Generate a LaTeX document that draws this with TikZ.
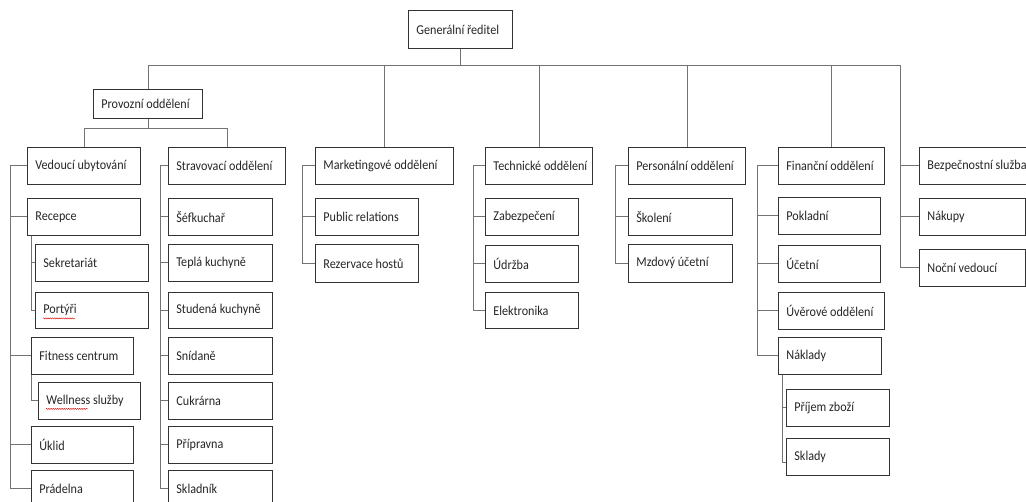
\documentclass[tikz,border=0pt]{standalone}
\usepackage{fontspec}
\setmainfont[FakeStretch=0.9]{Carlito}
\usetikzlibrary{decorations.pathmorphing}
\tikzset{
  box/.style={draw=black!80, line width=0.8pt, fill=white, inner xsep=8pt, inner ysep=0pt, font=\fontsize{13.5}{15}\selectfont, text=black!85},
  conn/.style={draw=black!55, line width=0.8pt},
  squig/.style={draw=red!85!black, line width=0.4pt, decorate, decoration={snake, segment length=2.2pt, amplitude=0.6pt}}
}
\newcommand\bx[6]{%
  \pgfmathsetmacro\bxh{#5-#3}%
  \pgfmathsetmacro\bxt{#4-#2-16}%
  \node[box, anchor=north west, minimum height=\bxh pt] (#1) at (#2,#3) {\makebox[\bxt pt][l]{#6}};}
\begin{document}
\begin{tikzpicture}[x=1pt,y=-1pt]
\fill[white] (0,0) rectangle (1026,502);
\useasboundingbox (0,0) rectangle (1026,502);
% boxes
\bx{gr}{408}{10}{512}{48}{Generální ředitel}
\bx{prov}{93}{89}{202}{118}{Provozní oddělení}
\bx{ved}{27}{147}{140}{184}{Vedoucí ubytování}
\bx{rec}{27}{198}{140}{235}{Recepce}
\bx{sek}{35}{244}{148}{281}{Sekretariát}
\bx{por}{35}{292}{148}{328}{Portýři}
\bx{fit}{31}{337}{133}{374}{Fitness centrum}
\bx{wel}{38}{382}{140}{419}{Wellness služby}
\bx{ukl}{31}{426}{133}{463}{Úklid}
\bx{pra}{31}{470}{133}{507}{Prádelna}
\bx{str}{168}{147}{285}{184}{Stravovací oddělení}
\bx{sef}{168}{198}{272}{235}{Šéfkuchař}
\bx{tep}{168}{244}{272}{281}{Teplá kuchyně}
\bx{stu}{168}{292}{272}{328}{Studená kuchyně}
\bx{sni}{168}{337}{272}{374}{Snídaně}
\bx{cuk}{168}{382}{272}{419}{Cukrárna}
\bx{pri}{168}{426}{272}{463}{Přípravna}
\bx{skl}{168}{470}{272}{507}{Skladník}
\bx{mar}{315}{147}{453}{184}{Marketingové oddělení}
\bx{pub}{315}{198}{418}{235}{Public relations}
\bx{rez}{315}{244}{418}{282}{Rezervace hostů}
\bx{tec}{485}{147}{592}{184}{Technické oddělení}
\bx{zab}{485}{198}{578}{235}{Zabezpečení}
\bx{udr}{485}{245}{578}{282}{Údržba}
\bx{ele}{485}{292}{578}{328}{Elektronika}
\bx{per}{628}{147}{745}{184}{Personální oddělení}
\bx{sko}{628}{198}{732}{235}{Školení}
\bx{mzd}{628}{244}{732}{282}{Mzdový účetní}
\bx{fin}{778}{147}{884}{184}{Finanční oddělení}
\bx{pok}{778}{197}{880}{234}{Pokladní}
\bx{uce}{778}{245}{880}{282}{Účetní}
\bx{uve}{778}{292}{884}{329}{Úvěrové oddělení}
\bx{nak}{778}{337}{881}{374}{Náklady}
\bx{pzb}{786}{389}{889}{426}{Příjem zboží}
\bx{sld}{786}{438}{889}{475}{Sklady}
\bx{bez}{919}{147}{1045}{184}{Bezpečnostní služba}
\bx{nku}{919}{198}{1025}{235}{Nákupy}
\bx{noc}{919}{249}{1025}{286}{Noční vedoucí}
% coordinates
\coordinate (bus) at (0,65);
\coordinate (pbus) at (0,128);
\coordinate (busend) at (900,65);
\coordinate (L1) at (10,0);
\coordinate (L1a) at (31,0);
\coordinate (L2) at (160,0);
\coordinate (L3) at (302,0);
\coordinate (L4) at (473,0);
\coordinate (L5) at (615,0);
\coordinate (L6) at (757,0);
\coordinate (L6a) at (782,0);
% top level
\draw[conn] (gr.south) -- (gr.south |- bus);
\draw[conn] (prov.north) -- (prov.north |- bus) -- (busend) |- (noc.west);
\draw[conn] (mar.north) -- (mar.north |- bus);
\draw[conn] (tec.north) -- (tec.north |- bus);
\draw[conn] (per.north) -- (per.north |- bus);
\draw[conn] (fin.north) -- (fin.north |- bus);
\draw[conn] (busend |- bez.west) -- (bez.west);
\draw[conn] (busend |- nku.west) -- (nku.west);
% provozni
\draw[conn] (prov.south) -- (prov.south |- pbus);
\draw[conn] (ved.north) -- (ved.north |- pbus) -- (str.north |- pbus) -- (str.north);
% column 1
\draw[conn] (ved.west) -| (L1 |- pra.west) -- (pra.west);
\foreach \n in {rec,fit,ukl} \draw[conn] (L1 |- \n.west) -- (\n.west);
\draw[conn] (L1a |- rec.south) |- (por.west);
\draw[conn] (L1a |- sek.west) -- (sek.west);
\draw[conn] (L1a |- fit.south) |- (wel.west);
% column 2
\draw[conn] (str.west) -| (L2 |- skl.west) -- (skl.west);
\foreach \n in {sef,tep,stu,sni,cuk,pri} \draw[conn] (L2 |- \n.west) -- (\n.west);
% marketing
\draw[conn] (mar.west) -| (L3 |- rez.west) -- (rez.west);
\draw[conn] (L3 |- pub.west) -- (pub.west);
% technicke
\draw[conn] (tec.west) -| (L4 |- ele.west) -- (ele.west);
\foreach \n in {zab,udr} \draw[conn] (L4 |- \n.west) -- (\n.west);
% personalni
\draw[conn] (per.west) -| (L5 |- mzd.west) -- (mzd.west);
\draw[conn] (L5 |- sko.west) -- (sko.west);
% financni
\draw[conn] (fin.west) -| (L6 |- nak.west) -- (nak.west);
\foreach \n in {pok,uce,uve} \draw[conn] (L6 |- \n.west) -- (\n.west);
\draw[conn] (L6a |- nak.south) |- ([yshift=-6pt]sld.west);
\draw[conn] (L6a |- pzb.west) -- (pzb.west);
% spell-check marks
\draw[squig] ([shift={(8,8)}]por.west) -- ([shift={(40,8)}]por.west);
\draw[squig] ([shift={(8,8)}]wel.west) -- ([shift={(50,8)}]wel.west);
\end{tikzpicture}
\end{document}
